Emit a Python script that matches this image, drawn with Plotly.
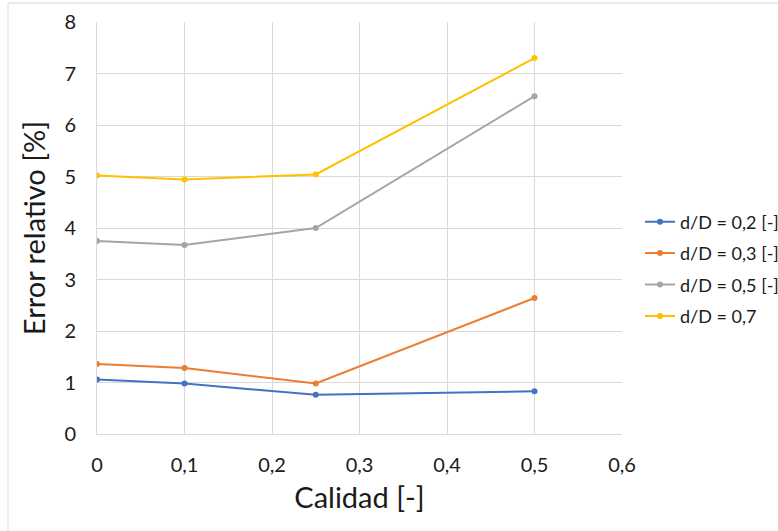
import plotly.graph_objects as go

# Quality values on the x axis
calidad = [0, 0.1, 0.25, 0.5]

# Relative error [%] for each diameter ratio
err_02 = [1.06, 0.98, 0.76, 0.83]
err_03 = [1.36, 1.28, 0.98, 2.64]
err_05 = [3.75, 3.67, 4.00, 6.56]
err_07 = [5.02, 4.94, 5.04, 7.30]

series_names = ["d/D = 0,2 [-]", "d/D = 0,3 [-]", "d/D = 0,5 [-]", "d/D = 0,7"]
series_colors = ["#4472C4", "#ED7D31", "#A5A5A5", "#FFC000"]

x_ticks = [0, 0.1, 0.2, 0.3, 0.4, 0.5, 0.6]
x_tick_labels = ["0", "0,1", "0,2", "0,3", "0,4", "0,5", "0,6"]
y_ticks = [0, 1, 2, 3, 4, 5, 6, 7, 8]

FONT = "Lato"
TEXT = "#1a1a1a"

fig = go.Figure()
for i, (name, vals, col) in enumerate(zip(series_names, [err_02, err_03, err_05, err_07], series_colors)):
    fig.add_trace(go.Scatter(
        x=calidad, y=vals, name=name, mode="lines+markers",
        legendgroup=f"g{i}",
        line=dict(color=col, width=2), marker=dict(color=col, size=6),
    ))

fig.update_layout(
    width=778, height=531,
    margin=dict(l=97, r=156, t=22, b=97, autoexpand=False),
    plot_bgcolor="white", paper_bgcolor="white",
    font=dict(family=FONT, color=TEXT),
    legend=dict(
        xref="container", x=640 / 778, xanchor="left",
        yref="container", y=(531 - 269) / 531, yanchor="middle",
        font=dict(family=FONT, size=18, color=TEXT),
        tracegroupgap=5, itemwidth=30,
        bgcolor="rgba(0,0,0,0)",
    ),
    showlegend=True,
)

fig.update_xaxes(
    range=[0, 0.6], tickvals=x_ticks, ticktext=x_tick_labels,
    showgrid=True, gridcolor="#d9d9d9", gridwidth=1,
    zeroline=False, showline=True, linecolor="#d9d9d9", mirror=False,
    ticks="", tickfont=dict(family=FONT, size=20, color=TEXT),
    ticklabelstandoff=13,
    title=dict(text="Calidad [-]", font=dict(family=FONT, size=29, color=TEXT), standoff=12),
)
fig.update_yaxes(
    range=[0, 8], tickvals=y_ticks,
    showgrid=True, gridcolor="#d9d9d9", gridwidth=1,
    zeroline=False, showline=True, linecolor="#d9d9d9",
    ticks="", tickfont=dict(family=FONT, size=20, color=TEXT),
    ticklabelstandoff=16,
    title=dict(text="Error relativo [%]", font=dict(family=FONT, size=29, color=TEXT), standoff=10),
)

# Outer chart frame
fig.add_shape(
    type="rect", xref="paper", yref="paper",
    x0=-0.1695, x1=1.35, y0=-0.30, y1=1.046,
    line=dict(color="#d9d9d9", width=1), fillcolor="rgba(0,0,0,0)", layer="below",
)

fig.write_html("out.html")
